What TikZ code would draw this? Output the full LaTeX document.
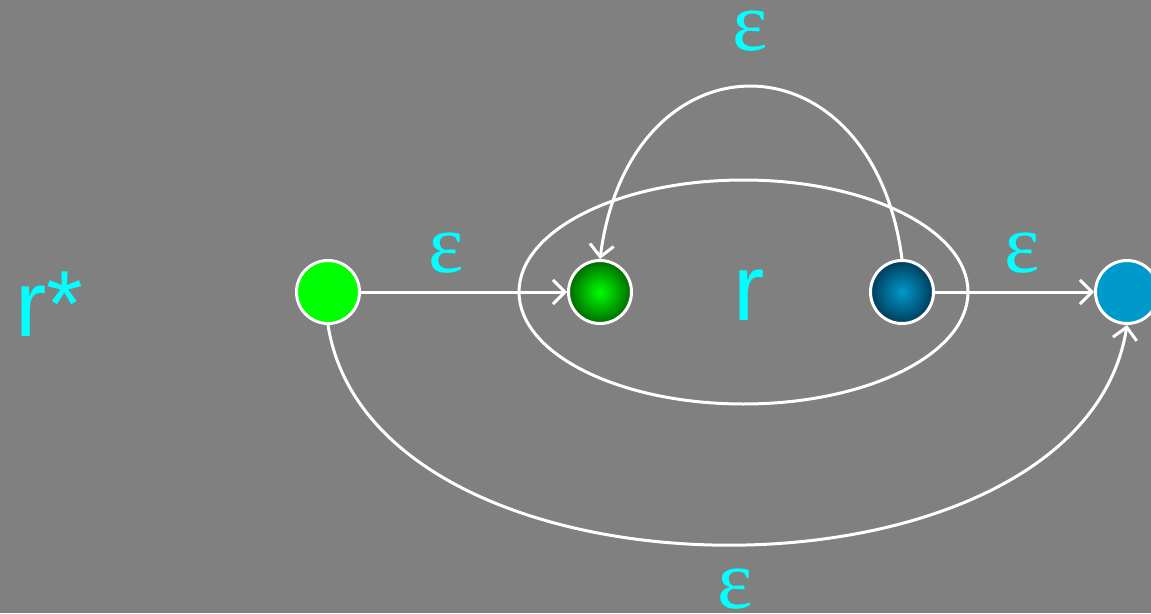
\documentclass[tikz,border=0pt]{standalone}
\usepackage{amsmath,amssymb}
\usepackage{fontspec}
\usepackage{tikz}
\usetikzlibrary{arrows.meta}
\usetikzlibrary{shapes.geometric}
\newfontfamily\labelfont{Liberation Sans}
\newfontfamily\epsfont{Liberation Serif}
\definecolor{bggray}{RGB}{128,128,128}
\definecolor{epscyan}{RGB}{0,255,255}
\definecolor{startgreen}{RGB}{0,255,0}
\definecolor{deepgreen}{RGB}{0,105,0}
\definecolor{endblue}{RGB}{0,153,204}
\definecolor{deepblue}{RGB}{0,60,90}

\tikzset{
	state/.style={circle, draw=white, line width=3pt, minimum size=63pt, inner sep=0pt},
	trans/.style={draw=white, line width=3pt, -{Straight Barb[length=12pt,width=24pt,line width=3pt]}},
	eps/.style={text=epscyan, anchor=base, inner sep=0pt, text height=0.46em, text depth=0pt, font=\epsfont\fontsize{84}{84}\selectfont},
	bigtext/.style={text=epscyan, anchor=base, inner sep=0pt, font=\labelfont\fontsize{94}{94}\selectfont}
}

\begin{document}
\begin{tikzpicture}[x=1pt, y=-1pt]
		\fill[bggray] (0,0) rectangle (1151,613);
		\useasboundingbox (0,0) rectangle (1151,613);
		
		\node[bigtext] (rstar) at (49,336) {r*};
		\node[ellipse, draw=white, line width=3pt, minimum width=449pt, minimum height=224pt, inner sep=0pt] (rbox) at (743.5,292) {};
		\node[bigtext] (rlab) at (749,320) {r};
		
		\node[state, fill=startgreen] (s0) at (328,292) {};
		\node[state, inner color=startgreen, outer color=deepgreen] (s1) at (600,292) {};
		\node[state, inner color=endblue, outer color=deepblue] (s2) at (902,292) {};
		\node[state, fill=endblue] (s3) at (1127,292) {};
		
		\draw[trans] (s0) -- (s1);
		\draw[trans] (s2) -- (s3);
		\draw[trans] (s2.north) .. controls (872,29) and (630,29) .. (s1.north);
		\draw[trans] (s0.south) .. controls (374,618) and (1081,618) .. (s3.south);
		
		\node[eps] (e1) at (446,272) {ε};
		\node[eps] (e2) at (1022,272) {ε};
		\node[eps] (e3) at (750,50) {ε};
		\node[eps] (e4) at (735,608) {ε};
	\end{tikzpicture}
\end{document}
